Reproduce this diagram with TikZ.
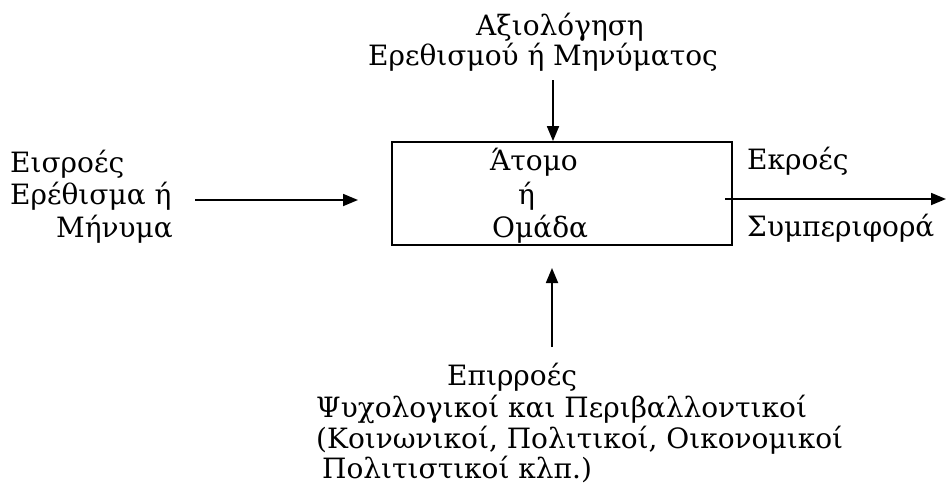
\documentclass[tikz,border=0pt]{standalone}
\usepackage{fontspec}
\setmainfont{DejaVu Serif}
\usetikzlibrary{arrows.meta}

\tikzset{
  txt/.style={font=\fontsize{28}{33}\selectfont, inner sep=0pt, anchor=base west},
  flow/.style={line width=1.8pt, -{Triangle[length=15pt,width=12pt]}}
}

\begin{document}
\begin{tikzpicture}[x=1pt,y=-1pt]

      \useasboundingbox (0,0) rectangle (946,488);

      \node[draw, line width=1.8pt, minimum width=340pt, minimum height=103pt, inner sep=0pt] (unit) at (562,193.5) {};
      \node[txt] (atom) at (490,170) {Άτομο};
      \node[txt] (or) at (518,204) {ή};
      \node[txt] (group) at (492,237) {Ομάδα};

      \node[txt] (eval1) at (476,35) {Αξιολόγηση};
      \node[txt] (eval2) at (368,65) {Ερεθισμού ή Μηνύματος};

      \node[txt] (in1) at (10,172) {Εισροές};
      \node[txt] (in2) at (10,204) {Ερέθισμα ή};
      \node[txt] (in3) at (56,237) {Μήνυμα};

      \node[txt] (out1) at (747,169) {Εκροές};
      \node[txt] (out2) at (747,236) {Συμπεριφορά};

      \node[txt] (inf1) at (447,385) {Επιρροές};
      \node[txt] (inf2) at (316,417) {Ψυχολογικοί και Περιβαλλοντικοί};
      \node[txt] (inf3) at (316,448) {(Κοινωνικοί, Πολιτικοί, Οικονομικοί};
      \node[txt] (inf4) at (322,478) {Πολιτιστικοί κλπ.)};

      \coordinate (evtail) at (553,80);
      \coordinate (intail) at (195,200);
      \coordinate (intip) at (358,200);
      \coordinate (outtail) at (725,199);
      \coordinate (outtip) at (946,199);
      \coordinate (inftail) at (552,347);
      \coordinate (inftip) at (552,268);

      \draw[flow] (evtail) -- (evtail |- unit.north);
      \draw[flow] (intail) -- (intip);
      \draw[flow] (outtail) -- (outtip);
      \draw[flow] (inftail) -- (inftip);

    \end{tikzpicture}
\end{document}
